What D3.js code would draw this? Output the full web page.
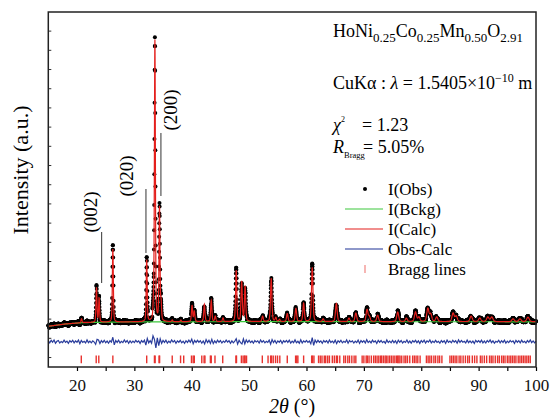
<!DOCTYPE html>
<html>
<head>
<meta charset="utf-8">
<title>XRD Rietveld HoNi0.25Co0.25Mn0.50O2.91</title>
<script src="https://cdn.jsdelivr.net/npm/d3@7"></script>
<style>
  body { margin: 0; background: #fff; }
  svg { font-family: "Liberation Serif", "Times New Roman", serif; }
</style>
</head>
<body>
<svg width="550" height="418"></svg>
<script>
// reflections: 2theta (deg), height above background (counts), fwhm (deg)
const peakTheta  = [20.80, 23.40, 23.85, 26.25, 32.15, 33.35, 33.58, 34.38, 34.65, 36.60, 38.10,
                    40.05, 40.45, 42.20, 43.40, 44.10, 45.45, 47.75, 48.70, 49.30, 52.35, 53.85,
                    54.65, 55.30, 56.65, 58.15, 59.50, 61.00, 62.90, 65.20, 67.40, 68.60, 70.55,
                    70.95, 72.40, 75.90, 77.40, 79.00, 79.60, 81.15, 81.65, 82.70, 85.55, 86.10,
                    88.70, 90.20, 91.60, 92.30, 96.00, 97.20, 98.60];
const peakHeight = [200, 1800, 1250, 3800, 3200, 700, 14600, 5900, 900, 80, 80,
                    830, 540, 900, 1100, 280, 190, 2650, 2080, 1830, 280, 2240,
                    200, 110, 420, 690, 950, 2820, 140, 950, 180, 450, 620,
                    250, 340, 500, 180, 500, 230, 680, 380, 240, 440, 280,
                    290, 190, 240, 240, 150, 150, 240];
const peakFwhm   = [0.22, 0.20, 0.20, 0.20, 0.20, 0.20, 0.20, 0.20, 0.20, 0.22, 0.22,
                    0.24, 0.24, 0.25, 0.25, 0.25, 0.25, 0.25, 0.26, 0.26, 0.28, 0.28,
                    0.28, 0.28, 0.30, 0.30, 0.30, 0.30, 0.32, 0.34, 0.35, 0.36, 0.38,
                    0.38, 0.38, 0.40, 0.40, 0.42, 0.42, 0.44, 0.44, 0.44, 0.46, 0.46,
                    0.48, 0.48, 0.50, 0.50, 0.50, 0.50, 0.52];

// background points
const bgTheta  = [15, 18, 21, 25, 30, 50, 100];
const bgCounts = [1600, 1720, 1790, 1815, 1830, 1840, 1835];

// Obs-Calc, one value every 0.25 deg from 15 to 100
const diffStart = 15, diffStep = 0.25, diffOffset = 800;
const diffCounts = [
  40,-60,70,-30,90,-80,20,60,-70,10,-50,80,-40,30,-90,50,-20,70,-60,40,
  -30,80,-110,60,-40,20,-70,90,-50,30,-60,40,-20,-140,120,90,-100,50,-40,70,
  -60,30,-80,50,-20,230,-170,60,-40,80,-70,20,-50,90,-30,60,-80,40,-60,30,
  -50,70,-20,40,-90,60,-30,80,-180,160,-60,50,-80,300,120,-330,200,-210,150,-90,
  60,-40,80,-70,30,-50,90,-20,60,-80,40,-30,70,-60,20,-90,50,-40,80,-30,
  130,-110,60,-40,70,-30,50,-80,40,-120,110,-50,70,-90,120,-100,40,-60,80,-30,
  60,-70,30,-40,80,-20,50,-90,40,-60,30,150,-130,70,-50,-120,140,-110,90,-40,
  70,-50,30,-80,60,-20,40,-70,90,-30,50,-60,20,-40,80,-130,110,-50,60,-80,
  40,-30,70,-90,50,-20,60,-40,80,-70,30,-50,90,-60,20,-80,100,-70,40,-30,
  60,-40,30,-110,210,-190,80,-50,70,-30,40,-80,60,-20,50,-70,90,-40,30,-60,
  80,-100,50,-30,70,-60,20,-40,90,-80,60,-20,40,-70,30,-50,80,-90,60,-30,
  50,-70,100,-40,30,-60,80,-20,40,-90,70,-30,60,-50,20,-80,90,-40,30,-60,
  70,-50,40,-90,80,-30,60,-70,20,-40,90,-60,30,-80,50,-20,70,-50,40,-90,
  60,-30,80,-70,40,-20,90,-60,30,-50,70,-40,20,-80,60,-30,50,-90,80,-40,
  30,-60,70,-20,50,-80,90,-40,60,-30,20,-70,80,-50,40,-60,30,-90,70,-20,
  50,-40,80,-60,30,-70,60,-20,90,-50,40,-80,20,-30,70,-60,50,-40,80,-70,
  30,-50,60,-20,40,-90,70,-30,50,-60,80,-40,20,-70,60,-30,90,-50,40,-60,
  20];

// Bragg reflection positions (2theta)
const braggTheta = [20.75, 23.35, 23.8, 26.25, 32.15, 33.5, 33.62, 34.3, 34.4, 36.6, 38.05, 38.6,
  39.95, 40.25, 40.45, 41.75, 42.15, 42.3, 43.25, 43.4, 44.05, 45.4, 47.7, 47.8, 48.65, 48.95,
  49.2, 49.3, 49.55, 52.3, 53.3, 53.75, 53.9, 54.2, 54.6, 54.95, 55.35, 56.65, 58.1, 58.3, 58.5,
  59.5, 60.9, 61.05, 61.3, 62.1, 62.4, 62.7, 63.1, 63.35, 63.7, 64.0, 64.5, 64.85, 65.2, 65.4,
  65.8, 66.5, 66.8, 67.2, 67.5, 67.9, 68.3, 68.6, 69.7, 70.0, 70.4, 70.6, 70.9, 71.3, 71.7, 72.0,
  72.3, 72.6, 72.9, 73.1, 73.4, 73.7, 73.9, 74.2, 74.5, 74.8, 75.1, 75.4, 75.7, 75.9, 76.1, 76.3,
  76.6, 77.0, 77.3, 77.6, 78.0, 78.5, 78.8, 79.1, 79.4, 79.8, 80.9, 81.2, 81.5, 81.8, 82.2, 82.5,
  82.9, 83.2, 83.6, 85.0, 85.3, 85.6, 85.9, 86.2, 86.6, 86.9, 87.3, 87.7, 88.1, 88.4, 88.9, 89.3,
  89.7, 90.3, 90.6, 91.0, 91.4, 91.9, 92.2, 92.5, 92.9, 93.3, 93.6, 94.0, 94.3, 94.6, 95.0, 95.3,
  95.6, 95.9, 96.2, 96.5, 96.9, 97.2, 97.5, 97.8, 98.1, 98.4, 98.7, 99.0];

const xTicks = [20, 30, 40, 50, 60, 70, 80, 90, 100];
const xMinorTicks = [25, 35, 45, 55, 65, 75, 85, 95];
const yTicks = d3.range(0, 17001, 1000);

// hkl annotations: leader line at 2theta between two count levels, label beside it
const hkl = [
  {text: "(002)", theta: 24.30, from: 3855, to: 6511,  labelTheta: 23.48, labelCounts: 7553},
  {text: "(020)", theta: 32.02, from: 5418, to: 8751,  labelTheta: 29.68, labelCounts: 9428},
  {text: "(200)", theta: 34.63, from: 8387, to: 11668, labelTheta: 37.47, labelCounts: 12866}
];

const FONT = "'Liberation Serif', 'Times New Roman', serif";
const svg = d3.select("svg").attr("font-family", FONT);
const x = d3.scaleLinear().domain([15, 100]).range([48.3, 536]);
const y = d3.scaleLinear().domain([-520, 17970]).range([367, 12]);

const red = "#e41f1c", green = "#3cc83c", blue = "#2a3d9c", braggRed = "#e8322e";

// calculated profile = background + pseudo-Voigt peaks
const bgAt = d3.scaleLinear().domain(bgTheta).range(bgCounts);
function peaks(t) {
  let s = 0;
  for (let k = 0; k < peakTheta.length; k++) {
    const u = (t - peakTheta[k]) / peakFwhm[k];
    const L = 1 / (1 + 4 * u * u);
    const G = Math.exp(-4 * Math.LN2 * u * u);
    s += peakHeight[k] * (0.4 * L + 0.6 * G);
  }
  return s;
}
const grid = d3.range(0, 4251).map(i => 15 + i * 0.02);
const calc = grid.map(t => [t, bgAt(t) + peaks(t)]);
const obs = calc.map(([t, c]) => [t, c + diffCounts[Math.round((t - diffStart) / diffStep)]]);
const back = grid.map(t => [t, bgAt(t)]);
const diff = diffCounts.map((d, i) => [diffStart + i * diffStep, diffOffset + d]);

const line = d3.line().x(d => x(d[0])).y(d => y(d[1]));

// axes
const xg = svg.append("g").attr("transform", "translate(0,367)")
  .call(d3.axisBottom(x).tickValues(xTicks).tickSize(4).tickSizeOuter(0).tickPadding(8));
xg.attr("font-family", FONT).attr("font-size", 17);
xg.select(".domain").remove();
xg.selectAll("line").attr("stroke-width", 1.2);
xg.selectAll("text").attr("fill", "#111");

const xm = svg.append("g").attr("transform", "translate(0,367)")
  .call(d3.axisBottom(x).tickValues(xMinorTicks).tickSize(4).tickFormat(""));
xm.select(".domain").remove();
xm.selectAll("line").attr("stroke-width", 1.2);

const yg = svg.append("g").attr("transform", "translate(48.3,0)")
  .call(d3.axisLeft(y).tickValues(yTicks).tickSize(-3).tickFormat(""));
yg.select(".domain").remove();
yg.selectAll("line").attr("stroke", "#333").attr("stroke-width", 1);

// observed points
svg.append("g").selectAll("circle")
  .data(obs)
  .enter()
  .append("circle")
  .attr("cx", d => x(d[0]))
  .attr("cy", d => y(d[1]))
  .attr("r", 2)
  .attr("fill", "#000");

svg.append("path").datum(back).attr("d", line)
  .attr("fill", "none").attr("stroke", green).attr("stroke-width", 1.2);
svg.append("path").datum(calc).attr("d", line)
  .attr("fill", "none").attr("stroke", red).attr("stroke-width", 1.2);
svg.append("path").datum(diff).attr("d", line)
  .attr("fill", "none").attr("stroke", blue).attr("stroke-width", 1.2);

svg.append("g").selectAll("line")
  .data(braggTheta)
  .enter()
  .append("line")
  .attr("x1", d => x(d)).attr("x2", d => x(d))
  .attr("y1", y(-320)).attr("y2", y(80))
  .attr("stroke", braggRed).attr("stroke-width", 1.4);

// hkl labels
const ann = svg.append("g");
ann.selectAll("line")
  .data(hkl)
  .enter()
  .append("line")
  .attr("x1", d => x(d.theta)).attr("x2", d => x(d.theta))
  .attr("y1", d => y(d.from)).attr("y2", d => y(d.to))
  .attr("stroke", "#333").attr("stroke-width", 1);
ann.selectAll("text")
  .data(hkl)
  .enter()
  .append("text")
  .attr("transform", d => "translate(" + x(d.labelTheta) + "," + y(d.labelCounts) + ") rotate(-90)")
  .attr("text-anchor", "middle")
  .attr("font-size", 19)
  .text(d => d.text);

// frame
svg.append("rect")
  .attr("x", 48.3).attr("y", 12).attr("width", 536 - 48.3).attr("height", 355)
  .attr("fill", "none").attr("stroke", "#222").attr("stroke-width", 1.5);

// axis titles
svg.append("text")
  .attr("transform", "translate(28,170) rotate(-90)")
  .attr("text-anchor", "middle").attr("font-size", 22)
  .text("Intensity (a.u.)");
const xt = svg.append("text").attr("x", 292).attr("y", 413)
  .attr("text-anchor", "middle").attr("font-size", 20);
xt.append("tspan").attr("font-style", "italic").text("2θ");
xt.append("tspan").text(" (°)");

// sample info
const t1 = svg.append("text").attr("x", 333).attr("y", 37).attr("font-size", 18);
[["HoNi", 0], ["0.25", 1], ["Co", 0], ["0.25", 1], ["Mn", 0], ["0.50", 1], ["O", 0], ["2.91", 1]]
  .forEach(([s, sub], i, arr) => {
    const prev = i > 0 ? arr[i - 1][1] : 0;
    t1.append("tspan").attr("font-size", sub ? 13 : 18)
      .attr("dy", sub === prev ? 0 : (sub ? 5 : -5)).text(s);
  });

const t2 = svg.append("text").attr("x", 333).attr("y", 89).attr("font-size", 18);
t2.append("tspan").text("CuKα : ");
t2.append("tspan").attr("font-style", "italic").text("λ");
t2.append("tspan").text(" = 1.5405×10");
t2.append("tspan").attr("font-size", 12).attr("dy", -7).text("−10");
t2.append("tspan").attr("dy", 7).text(" m");

const t3 = svg.append("text").attr("x", 333).attr("y", 131).attr("font-size", 18);
t3.append("tspan").attr("font-style", "italic").text("χ");
t3.append("tspan").attr("font-size", 8).attr("dy", -9).text("2");
svg.append("text").attr("x", 362).attr("y", 131).attr("font-size", 18).text("= 1.23");

const t4 = svg.append("text").attr("x", 333).attr("y", 153).attr("font-size", 18);
t4.append("tspan").attr("font-style", "italic").text("R");
t4.append("tspan").attr("font-size", 8.5).attr("dy", 5).text("Bragg");
svg.append("text").attr("x", 363).attr("y", 153).attr("font-size", 18).text("= 5.05%");

// legend
const legendRows = ["I(Obs)", "I(Bckg)", "I(Calc)", "Obs-Calc", "Bragg lines"];
const lg = svg.append("g");
legendRows.forEach((label, i) => {
  const cy = 189 + i * 20;
  if (i === 0) lg.append("circle").attr("cx", 365).attr("cy", cy).attr("r", 2).attr("fill", "#000");
  if (i === 1 || i === 2 || i === 3)
    lg.append("line").attr("x1", 345).attr("x2", 383).attr("y1", cy).attr("y2", cy)
      .attr("stroke", [null, green, red, blue][i]).attr("stroke-width", i === 3 ? 1.6 : 1.2)
      .attr("opacity", i === 3 ? 0.7 : 1);
  if (i === 4)
    lg.append("line").attr("x1", 365).attr("x2", 365).attr("y1", cy - 4).attr("y2", cy + 4)
      .attr("stroke", braggRed).attr("stroke-width", 1.2).attr("opacity", 0.6);
  lg.append("text").attr("x", 388).attr("y", cy + 6).attr("font-size", 17).text(label);
});
</script>
</body>
</html>
